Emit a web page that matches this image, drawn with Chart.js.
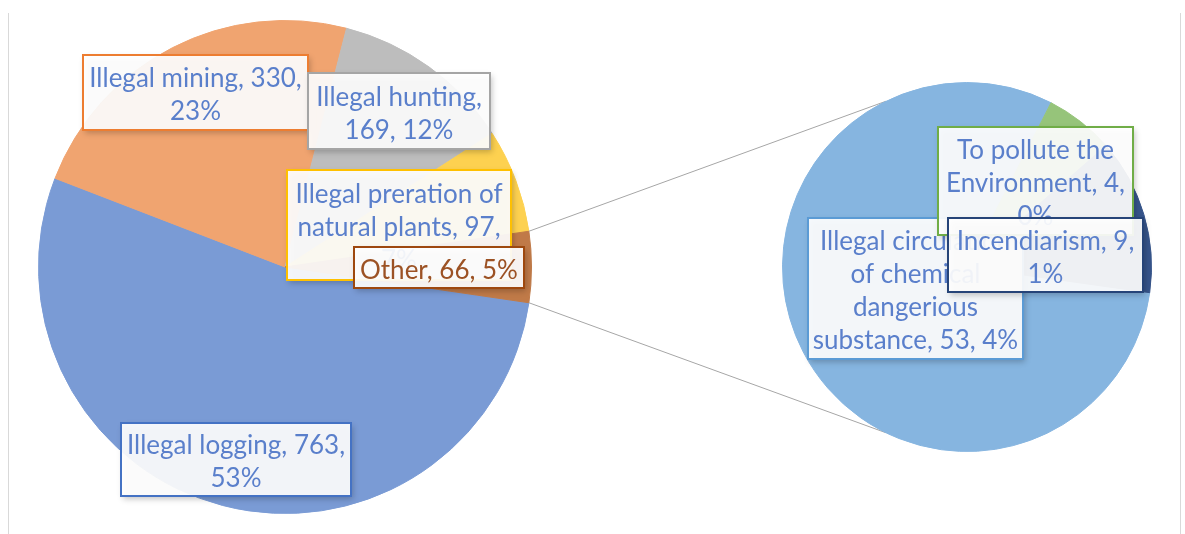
<!DOCTYPE html>
<html>
<head>
<meta charset="utf-8">
<script src="https://cdn.jsdelivr.net/npm/chart.js@4.4.0/dist/chart.umd.min.js"></script>
<style>
  html, body { margin: 0; padding: 0; background: #fff; }
  #wrap { position: relative; width: 1185px; height: 534px; overflow: hidden; }
  #wrap canvas { position: absolute; left: 0; top: 0; }
  #frame { position: absolute; left: 8px; top: 13px; width: 1171px; height: 530px;
           border-left: 1px solid #d9d9d9; border-right: 1px solid #d9d9d9; }
</style>
</head>
<body>
<div id="wrap">
  <div id="frame"></div>
  <canvas id="mainPie" width="1185" height="534"></canvas>
  <canvas id="subPie" width="1185" height="534"></canvas>
</div>
<script>
// data
const mainLabels = ['Illegal logging', 'Illegal mining', 'Illegal hunting', 'Illegal preration of natural plants', 'Other'];
const mainValues = [763, 330, 169, 97, 66];
const mainPercents = [53, 23, 12, 7, 5];
const subLabels = ['Illegal circulation of chemical dangerious substance', 'To pollute the Environment', 'Incendiarism'];
const subValues = [53, 4, 9];
const subPercents = [4, 0, 1];

const mainColors = ['#7a9bd5', '#f0a470', '#bdbdbd', '#fdd150', '#c07a48'];
const subColors = ['#86b5e0', '#96c47a', '#36548a'];

const FONT = '26px Lato';
const LINE_H = 33;
const TEXT_SHIFT = 3;
const TEXT_BLUE = '#5a7fcb';

// label boxes: [x, y, w, h] in page pixels, lines = words per text line
const mainLabelBoxes = [
  { i: 1, box: [83, 55, 225, 75], lines: [3, 1], border: '#ed7d31', color: TEXT_BLUE },
  { i: 2, box: [308, 73, 182, 76], lines: [2, 2], border: '#a5a5a5', color: TEXT_BLUE },
  { i: 3, box: [287, 170, 224, 110], lines: [3, 3, 1], border: '#ffc000', color: TEXT_BLUE },
  { i: 4, box: [354, 247, 170, 41], lines: [3], border: '#9e480e', color: '#9c5224' },
  { i: 0, box: [121, 423, 230, 73], lines: [3, 1], border: '#4472c4', color: TEXT_BLUE }
];
const subLabelBoxes = [
  { i: 0, box: [808, 218, 215, 141], lines: [2, 2, 1, 3], border: '#5b9bd5', color: TEXT_BLUE },
  { i: 1, box: [938, 127, 195, 108], lines: [3, 2, 1], border: '#70ad47', color: TEXT_BLUE },
  { i: 2, box: [948, 218, 195, 74], lines: [2, 1], border: '#264478', color: TEXT_BLUE }
];

function splitLines(text, counts) {
  const words = text.split(' ');
  const out = [];
  let k = 0;
  counts.forEach(n => {
    out.push(words.slice(k, k + n).join(' '));
    k += n;
  });
  return out;
}

function drawLabel(ctx, text, L) {
  const [x, y, w, h] = L.box;
  ctx.save();
  ctx.shadowColor = 'rgba(0,0,0,0.25)';
  ctx.shadowBlur = 6;
  ctx.shadowOffsetX = 2;
  ctx.shadowOffsetY = 3;
  ctx.fillStyle = 'rgba(255,255,255,0.92)';
  ctx.fillRect(x, y, w, h);
  ctx.restore();

  ctx.save();
  ctx.strokeStyle = L.border;
  ctx.lineWidth = 2;
  ctx.strokeRect(x, y, w, h);
  ctx.font = FONT;
  ctx.fillStyle = L.color;
  ctx.textAlign = 'center';
  ctx.textBaseline = 'middle';
  const lines = splitLines(text, L.lines);
  const cy = y + h / 2 + TEXT_SHIFT;
  lines.forEach((ln, k) => {
    ctx.fillText(ln, x + w / 2, cy + (k - (lines.length - 1) / 2) * LINE_H);
  });
  ctx.restore();
}

function labelText(labels, values, pcts, i) {
  return labels[i] + ', ' + values[i] + ', ' + pcts[i] + '%';
}

const mainLabelPlugin = {
  id: 'mainLabels',
  afterDraw(chart) {
    const ctx = chart.ctx;
    mainLabelBoxes.forEach(L => drawLabel(ctx, labelText(mainLabels, mainValues, mainPercents, L.i), L));
  }
};

let mainChart = null;

const subPlugin = {
  id: 'subLabels',
  beforeDatasetsDraw(chart) {
    if (!mainChart) return;
    const other = mainChart.getDatasetMeta(0).data[4];
    const sub = chart.getDatasetMeta(0).data[0];
    const ctx = chart.ctx;
    const a1 = other.startAngle, a2 = other.endAngle;
    const r = other.outerRadius;
    const endA = 116 * Math.PI / 180;
    ctx.save();
    ctx.strokeStyle = '#a6a6a6';
    ctx.lineWidth = 1;
    ctx.beginPath();
    ctx.moveTo(other.x + r * Math.cos(a1), other.y + r * Math.sin(a1));
    ctx.lineTo(sub.x + sub.outerRadius * Math.cos(-endA), sub.y + sub.outerRadius * Math.sin(-endA));
    ctx.moveTo(other.x + r * Math.cos(a2), other.y + r * Math.sin(a2));
    ctx.lineTo(sub.x + sub.outerRadius * Math.cos(endA), sub.y + sub.outerRadius * Math.sin(endA));
    ctx.stroke();
    ctx.restore();
  },
  afterDraw(chart) {
    const ctx = chart.ctx;
    subLabelBoxes.forEach(L => drawLabel(ctx, labelText(subLabels, subValues, subPercents, L.i), L));
  }
};

const baseOptions = {
  responsive: false,
  animation: false,
  events: [],
  plugins: { legend: { display: false }, tooltip: { enabled: false } }
};

function start() {
  const total = mainValues.reduce((a, b) => a + b, 0);
  mainChart = new Chart(document.getElementById('mainPie').getContext('2d'), {
    type: 'pie',
    data: {
      labels: mainLabels,
      datasets: [{
        data: mainValues,
        backgroundColor: mainColors,
        borderColor: mainColors,
        borderWidth: 1,
        hoverOffset: 0
      }]
    },
    options: Object.assign({}, baseOptions, {
      rotation: 90 + 180 * mainValues[4] / total,
      layout: { padding: { left: 38, right: 653, top: 20, bottom: 20 } }
    }),
    plugins: [mainLabelPlugin]
  });

  new Chart(document.getElementById('subPie').getContext('2d'), {
    type: 'pie',
    data: {
      labels: subLabels,
      datasets: [{
        data: subValues,
        backgroundColor: subColors,
        borderColor: subColors,
        borderWidth: 1,
        hoverOffset: 0
      }]
    },
    options: Object.assign({}, baseOptions, {
      rotation: 98,
      layout: { padding: { left: 782, right: 33, top: 82, bottom: 82 } }
    }),
    plugins: [subPlugin]
  });
}

if (document.fonts && document.fonts.load) {
  document.fonts.load(FONT).then(start, start);
} else {
  start();
}
</script>
</body>
</html>
